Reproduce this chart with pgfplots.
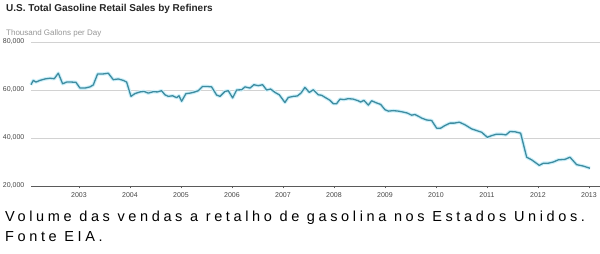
\documentclass[border=0pt]{standalone}
\usepackage{pgfplots}
\pgfplotsset{compat=1.18}
\usepackage{fontspec}
\setmainfont{Liberation Sans}
\newfontfamily\capfont[LetterSpace=25]{Liberation Sans}
\definecolor{linecol}{RGB}{62,140,160}
\definecolor{glowcol}{RGB}{205,240,250}
\definecolor{gridcol}{RGB}{210,210,210}
\definecolor{axiscol}{RGB}{90,90,90}
\definecolor{labcol}{RGB}{70,70,70}
\definecolor{subcol}{RGB}{150,150,150}
\pgfplotstableread{
x y
2002.059 62200
2002.105 64000
2002.157 63300
2002.235 64000
2002.333 64600
2002.431 64900
2002.516 64700
2002.595 67000
2002.680 62600
2002.758 63300
2002.856 63300
2002.941 63200
2003.020 60800
2003.118 60800
2003.216 61300
2003.281 62100
2003.366 66700
2003.477 66700
2003.575 67000
2003.673 64300
2003.771 64600
2003.869 64000
2003.935 63300
2004.020 57350
2004.098 58500
2004.196 59200
2004.275 59400
2004.359 58700
2004.458 59300
2004.536 59200
2004.621 59700
2004.686 58000
2004.752 57350
2004.837 57600
2004.915 56800
2004.961 57600
2005.013 55300
2005.098 58500
2005.176 58700
2005.242 59000
2005.340 59700
2005.425 61500
2005.503 61500
2005.601 61300
2005.699 57900
2005.765 57350
2005.863 59400
2005.928 59700
2006.013 56700
2006.092 60000
2006.190 60100
2006.255 61300
2006.353 60800
2006.431 62200
2006.516 61800
2006.601 62200
2006.680 60000
2006.758 60400
2006.843 59000
2006.928 58000
2007.039 54800
2007.105 56900
2007.203 57350
2007.281 57500
2007.353 58700
2007.431 61100
2007.516 59000
2007.595 60100
2007.693 58000
2007.758 57800
2007.843 56700
2007.922 55700
2007.987 54300
2008.052 54300
2008.118 56200
2008.196 56000
2008.281 56400
2008.379 56200
2008.477 55500
2008.523 55000
2008.588 55700
2008.673 53700
2008.739 55500
2008.837 54600
2008.915 54000
2009.000 51800
2009.065 51200
2009.163 51400
2009.261 51200
2009.359 50800
2009.438 50400
2009.523 49500
2009.588 49800
2009.686 48700
2009.719 48300
2009.817 47500
2009.915 47300
2010.013 44100
2010.092 44100
2010.176 45200
2010.275 46200
2010.359 46200
2010.458 46600
2010.569 45500
2010.699 43800
2010.797 43100
2010.895 42400
2011.007 40300
2011.092 41000
2011.190 41600
2011.275 41600
2011.373 41300
2011.451 42700
2011.549 42600
2011.660 42000
2011.778 32000
2011.876 30900
2012.026 28600
2012.105 29500
2012.203 29500
2012.301 30000
2012.399 30900
2012.529 31100
2012.627 32000
2012.758 28900
2012.889 28300
2013.020 27400
}\salesdata
\begin{document}
\begin{tikzpicture}[x=1pt,y=1pt]
\path[use as bounding box] (0,0) rectangle (600,254);
\begin{axis}[
  at={(31pt,68pt)}, anchor=south west,
  scale only axis, width=569pt, height=144pt,
  xmin=2002.06, xmax=2013.216,
  ymin=20000, ymax=80000,
  ytick={20000,40000,60000,80000},
  xtick={2003,2004,2005,2006,2007,2008,2009,2010,2011,2012,2013},
  scaled y ticks=false, scaled x ticks=false,
  axis x line*=bottom, axis y line*=left,
  y axis line style={draw=none},
  x axis line style={draw=axiscol, line width=0.9pt, -},
  ymajorgrids, major grid style={draw=gridcol, line width=0.8pt},
  ytick style={draw=none},
  xtick style={draw=axiscol, line width=0.5pt},
  tick align=outside, major tick length=2.5pt,
  /pgf/number format/assume math mode=true,
  yticklabel style={font=\fontsize{7}{8}\selectfont, text=labcol, inner sep=0pt, xshift=-4pt,
    /pgf/number format/1000 sep={,}},
  xticklabel style={font=\fontsize{7}{8}\selectfont, text=labcol, inner sep=0pt, yshift=-4pt,
    /pgf/number format/1000 sep={}},
  clip=false,
]
\addplot[glowcol, line width=3.5pt, line join=round] table {\salesdata};
\addplot[linecol, line width=1.3pt, line join=round] table {\salesdata};
\end{axis}
\node[anchor=base west, inner sep=0pt, font=\bfseries\fontsize{10}{12}\selectfont, text=black!85] at (6,242.5) {U.S. Total Gasoline Retail Sales by Refiners};
\node[anchor=base west, inner sep=0pt, font=\fontsize{8}{9}\selectfont, text=subcol] at (6,218) {Thousand Gallons per Day};
\node[anchor=base west, inner sep=0pt, font=\capfont\fontsize{14.5}{16}\selectfont, text=black] at (5,32) {Volume das vendas a retalho de gasolina nos Estados Unidos.};
\node[anchor=base west, inner sep=0pt, font=\capfont\fontsize{14.5}{16}\selectfont, text=black] at (5,12) {Fonte EIA.};
\end{tikzpicture}
\end{document}
